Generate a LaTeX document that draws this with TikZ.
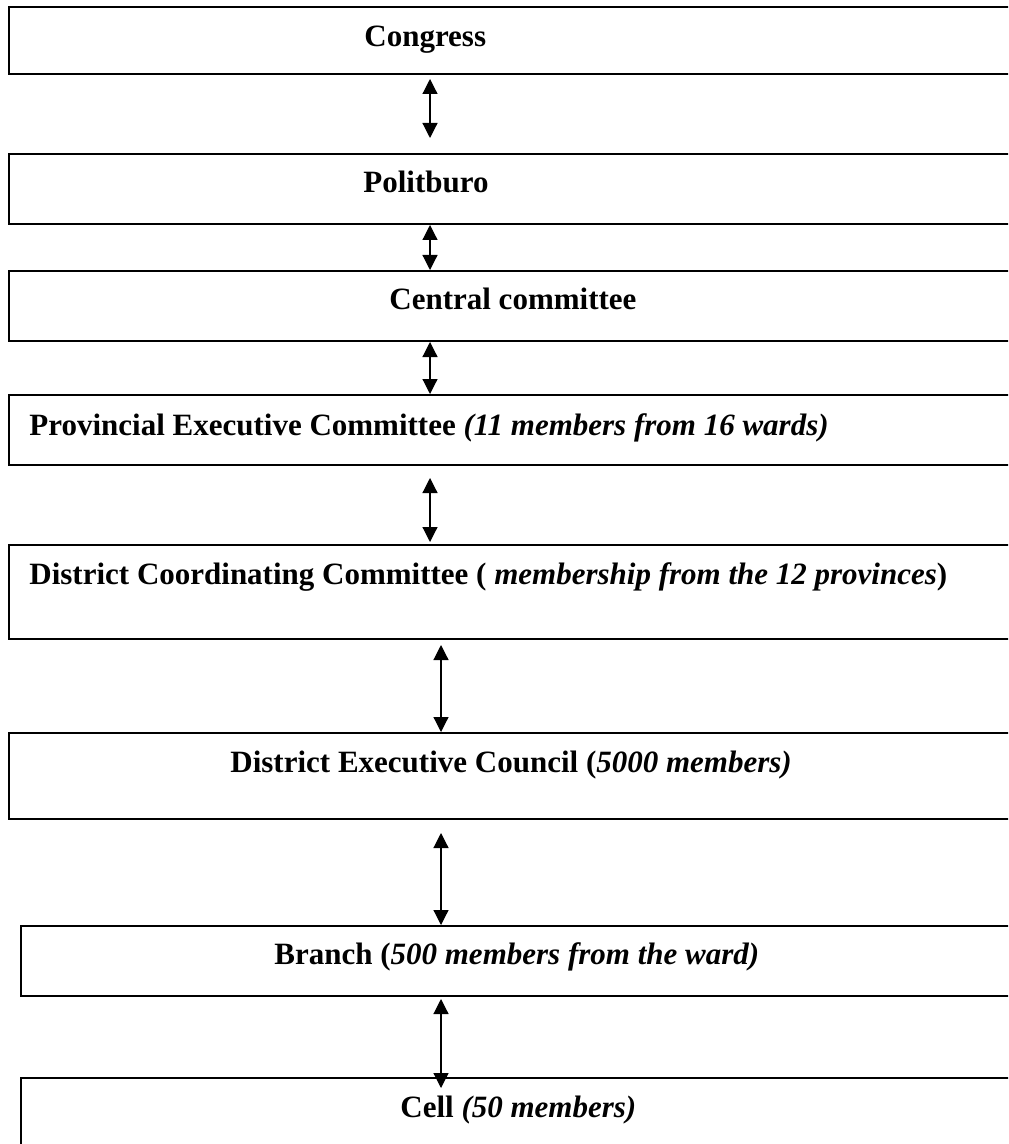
\documentclass[tikz,border=0pt]{standalone}
\usepackage{fontspec}
\setmainfont{Liberation Serif}
\usetikzlibrary{arrows.meta,fit,calc}

\begin{document}
\begin{tikzpicture}[x=0.5pt,y=-0.5pt,
		box/.style={draw,line width=1pt,inner sep=0pt},
		lbl/.style={font=\fontsize{15.5}{18}\selectfont\bfseries,inner sep=0pt,anchor=base west},
		link/.style={{Triangle[width=7.5pt,length=7.5pt]}-{Triangle[width=7.5pt,length=7.5pt]},line width=0.6pt}]
		\useasboundingbox (0,0) rectangle (1008,1144);
		\clip (0,0) rectangle (1008,1144);

		% Koordinaten
		\coordinate (ax1) at (430,0);
		\coordinate (ax2) at (441,0);

		% Kaesten
		\node[box,fit={(9,7) (1015,74)}] (congress) {};
		\node[box,fit={(9,154) (1015,224)}] (politburo) {};
		\node[box,fit={(9,271) (1015,341)}] (central) {};
		\node[box,fit={(9,395) (1015,465)}] (provincial) {};
		\node[box,fit={(9,545) (1015,639)}] (dcc) {};
		\node[box,fit={(9,733) (1015,819)}] (dec) {};
		\node[box,fit={(21,926) (1015,996)}] (branch) {};
		\node[box,fit={(21,1078) (1015,1170)}] (cell) {};

		% Texte
		\node[lbl] (congress-t) at (364,47) {Congress};
		\node[lbl] (politburo-t) at (363,193) {Politburo};
		\node[lbl] (central-t) at (389,310) {Central committee};
		\node[lbl] (provincial-t) at (29,435) {Provincial Executive Committee \textit{(11 members from 16 wards)}};
		\node[lbl] (dcc-t) at (29,584) {District Coordinating Committee ( \textit{membership from the 12 provinces})};
		\node[lbl] (dec-t) at (230,772) {District Executive Council (\textit{5000 members)}};
		\node[lbl] (branch-t) at (274,964) {Branch (\textit{500 members from the ward)}};
		\node[lbl] (cell-t) at (400,1117) {Cell \textit{(50 members)}};

		% Pfeile
		\draw[link] ($(congress.south -| ax1)+(0,4)$) -- ($(politburo.north -| ax1)+(0,-15)$);
		\draw[link] (politburo.south -| ax1) -- (central.north -| ax1);
		\draw[link] (central.south -| ax1) -- (provincial.north -| ax1);
		\draw[link] ($(provincial.south -| ax1)+(0,12)$) -- ($(dcc.north -| ax1)+(0,-2)$);
		\draw[link] ($(dcc.south -| ax2)+(0,5)$) -- (dec.north -| ax2);
		\draw[link] ($(dec.south -| ax2)+(0,13)$) -- (branch.north -| ax2);
		\draw[link] ($(branch.south -| ax2)+(0,2)$) -- ($(cell.north -| ax2)+(0,11)$);
	\end{tikzpicture}
\end{document}
